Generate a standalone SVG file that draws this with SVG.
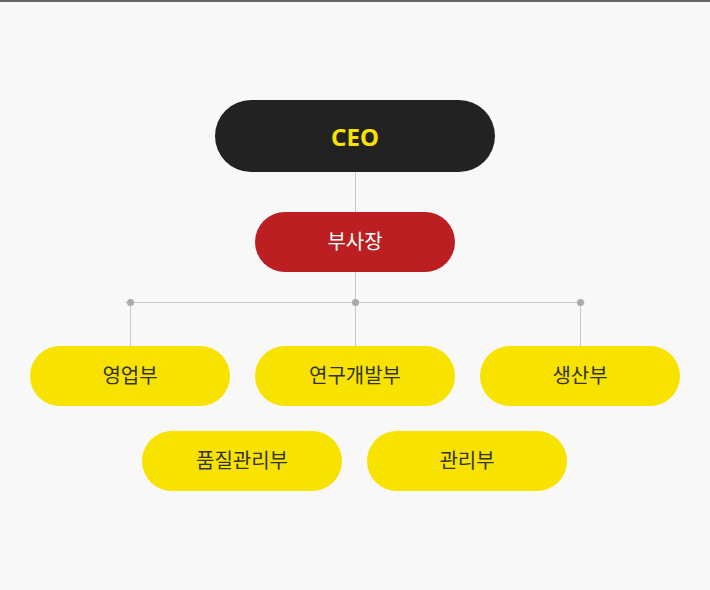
<svg xmlns="http://www.w3.org/2000/svg" width="710" height="590" viewBox="0 0 710 590">
<style>
.ln{stroke:#c8c8c8;stroke-width:1;fill:none}
.dot{fill:#aaaaaa}
.dept{fill:#f7e200}
.dt{font-family:"Noto Sans CJK KR","Noto Sans",sans-serif;font-size:20px;fill:#333333;text-anchor:middle;dominant-baseline:central}
</style>
<rect x="0" y="0" width="710" height="590" fill="#f8f8f8"/>
<rect x="0" y="0" width="710" height="2" fill="#666666"/>
<g id="connectors">
<line class="ln" x1="355.5" y1="172" x2="355.5" y2="212"/>
<line class="ln" x1="355.5" y1="272" x2="355.5" y2="346"/>
<line class="ln" x1="125" y1="302.5" x2="585" y2="302.5"/>
<line class="ln" x1="130.5" y1="302" x2="130.5" y2="346"/>
<line class="ln" x1="580.5" y1="302" x2="580.5" y2="346"/>
<circle class="dot" cx="130.5" cy="302.5" r="3.5"/>
<circle class="dot" cx="355.5" cy="302.5" r="3.5"/>
<circle class="dot" cx="580.5" cy="302.5" r="3.5"/>
</g>
<g id="ceo">
<rect x="215" y="100" width="280" height="72" rx="36" fill="#222222"/>
<text x="355" y="136" font-family="'Noto Sans',sans-serif" font-weight="bold" font-size="24" fill="#f7e200" text-anchor="middle" dominant-baseline="central">CEO</text>
</g>
<g id="vp">
<rect x="255" y="212" width="200" height="60" rx="30" fill="#bb1f22"/>
<text x="355" y="240" class="dt" style="fill:#ffffff">부사장</text>
</g>
<g id="sales">
<rect class="dept" x="30" y="346" width="200" height="60" rx="30"/>
<text class="dt" x="130" y="374">영업부</text>
</g>
<g id="rnd">
<rect class="dept" x="255" y="346" width="200" height="60" rx="30"/>
<text class="dt" x="355" y="374">연구개발부</text>
</g>
<g id="production">
<rect class="dept" x="480" y="346" width="200" height="60" rx="30"/>
<text class="dt" x="580" y="374">생산부</text>
</g>
<g id="qa">
<rect class="dept" x="142" y="431" width="200" height="60" rx="30"/>
<text class="dt" x="242" y="459">품질관리부</text>
</g>
<g id="admin">
<rect class="dept" x="367" y="431" width="200" height="60" rx="30"/>
<text class="dt" x="467" y="459">관리부</text>
</g>
</svg>
